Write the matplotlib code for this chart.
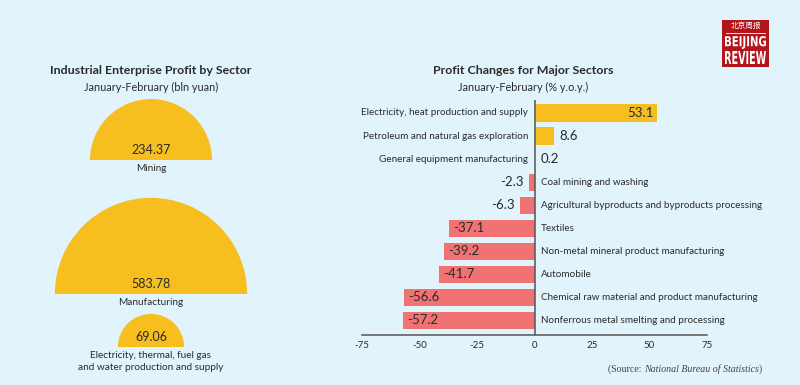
import matplotlib
matplotlib.use("Agg")
import matplotlib.pyplot as plt
from matplotlib.patches import Wedge, Rectangle, PathPatch
from matplotlib.textpath import TextPath
from matplotlib.font_manager import FontProperties
from matplotlib.transforms import Affine2D
import numpy as np

# data
sectors = ["Mining", "Manufacturing",
           "Electricity, thermal, fuel gas\nand water production and supply"]
profits = [234.37, 583.78, 69.06]

categories = ["Electricity, heat production and supply",
              "Petroleum and natural gas exploration",
              "General equipment manufacturing",
              "Coal mining and washing",
              "Agricultural byproducts and byproducts processing",
              "Textiles",
              "Non-metal mineral product manufacturing",
              "Automobile",
              "Chemical raw material and product manufacturing",
              "Nonferrous metal smelting and processing"]
changes = [53.1, 8.6, 0.2, -2.3, -6.3, -37.1, -39.2, -41.7, -56.6, -57.2]
xticks = [-75, -50, -25, 0, 25, 50, 75]

BG = "#e1f3fb"
YELLOW = "#f6be1e"
RED = "#f07272"
DARK = "#2b2b2b"
FONT = "Lato"

fig = plt.figure(figsize=(8, 3.85), dpi=100)
fig.patch.set_facecolor(BG)

W, H = 800, 385


def fx(px):
    return px / W


def fy(py):
    return 1 - py / H


# ---- left panel: semicircles (area ~ value)
ax0 = fig.add_axes([0, 0, 360 / W, 1])
ax0.set_xlim(0, 360)
ax0.set_ylim(H, 0)
ax0.axis("off")
bases = [160, 294, 347]
for name, val, base in zip(sectors, profits, bases):
    r = 3.98 * np.sqrt(val)
    ax0.add_patch(Wedge((151, base), r, 180, 360, facecolor=YELLOW, edgecolor="none"))
    ax0.text(151, base - 4, f"{val:.2f}", ha="center", va="bottom", fontsize=9,
             color=DARK, family=FONT)
    ax0.text(151, base + 4, name, ha="center", va="top", fontsize=7.2,
             color=DARK, family=FONT, linespacing=1.4)

fig.text(fx(151), fy(71), "Industrial Enterprise Profit by Sector", ha="center",
         va="center", fontsize=8.9, fontweight="bold", color=DARK, family=FONT)
fig.text(fx(151), fy(87), "January-February (bln yuan)", ha="center",
         va="center", fontsize=7.8, color=DARK, family=FONT)

# ---- right panel: diverging bars
ax = fig.add_axes([fx(362), fy(335), 345 / W, 235 / H])
ax.set_facecolor("none")
y = np.arange(len(changes))
colors = [YELLOW if v >= 0 else RED for v in changes]
ax.barh(y, changes, height=0.74, color=colors)
ax.set_xlim(-75, 75)
ax.set_ylim(9.65, -0.565)
ax.axvline(0, color="#555555", lw=1.1)
for s in ["top", "right", "left"]:
    ax.spines[s].set_visible(False)
ax.spines["bottom"].set_color("#555555")
ax.spines["bottom"].set_linewidth(1.1)
ax.set_yticks([])
ax.set_xticks(xticks)
ax.set_xticklabels([str(t) for t in xticks], fontsize=7, color=DARK, family=FONT)
ax.tick_params(axis="x", length=0, pad=4)

for yi, (cat, v) in enumerate(zip(categories, changes)):
    if v >= 0:
        ax.annotate(cat, (0, yi), xytext=(-4.5, 0), textcoords="offset points",
                    ha="right", va="center", fontsize=7.15, color=DARK, family=FONT)
        if v > 30:
            ax.annotate(f"{v}", (v, yi), xytext=(-2.5, 0), textcoords="offset points",
                        ha="right", va="center", fontsize=9.5, color=DARK, family=FONT)
        else:
            ax.annotate(f"{v}", (v, yi), xytext=(4, 0), textcoords="offset points",
                        ha="left", va="center", fontsize=9.5, color=DARK, family=FONT)
    else:
        ax.annotate(cat, (0, yi), xytext=(4.5, 0), textcoords="offset points",
                    ha="left", va="center", fontsize=7.15, color=DARK, family=FONT)
        if v < -30:
            ax.annotate(f"{v}", (v, yi), xytext=(3, 0), textcoords="offset points",
                        ha="left", va="center", fontsize=9.5, color=DARK, family=FONT)
        else:
            ax.annotate(f"{v}", (v, yi), xytext=(-4, 0), textcoords="offset points",
                        ha="right", va="center", fontsize=9.5, color=DARK, family=FONT)

fig.text(fx(523), fy(71), "Profit Changes for Major Sectors", ha="center",
         va="center", fontsize=8.9, fontweight="bold", color=DARK, family=FONT)
fig.text(fx(523), fy(87), "January-February (% y.o.y.)", ha="center",
         va="center", fontsize=7.8, color=DARK, family=FONT)

# ---- source line (regular + italic serif)
renderer = fig.canvas.get_renderer()
xr = fx(762)
ys = fy(369)
for txt, sty in [(")", "normal"), ("National Bureau of Statistics", "italic"),
                 ("(Source: ", "normal")]:
    t = fig.text(xr, ys, txt, ha="right", va="center", fontsize=7.1, style=sty,
                 color="#444444", family="Liberation Serif")
    bb = t.get_window_extent(renderer)
    xr = bb.x0 / fig.bbox.width

# ---- logo
fig.patches.append(Rectangle((fx(722), fy(67)), 47 / W, 47 / H,
                             transform=fig.transFigure, facecolor="#b3151c",
                             edgecolor="none"))
fig.text(fx(745.5), fy(27), "北京周报", ha="center", va="center", fontsize=5.5,
         color="white", family=["Noto Sans CJK SC", "DejaVu Sans"])
fig.lines.append(plt.Line2D([fx(726), fx(765)], [fy(33), fy(33)],
                            transform=fig.transFigure, color="white", lw=0.6))
# condensed bold lettering: squeeze a text path into the box (pixel coords)
prop = FontProperties(family="DejaVu Sans", weight="bold")
for txt, top, bottom in [("BEIJING", 36, 49), ("REVIEW", 51, 64)]:
    tp = TextPath((0, 0), txt, size=10, prop=prop)
    ext = tp.get_extents()
    sx = 41 / ext.width
    sy = (bottom - top) / ext.height
    tr = (Affine2D().translate(-ext.x0, -ext.y0).scale(sx, sy)
          .translate(725, H - bottom))
    fig.patches.append(PathPatch(tr.transform_path(tp), transform=None,
                                 facecolor="white", edgecolor="none"))

fig.savefig("out.png", dpi=100, facecolor=BG)
